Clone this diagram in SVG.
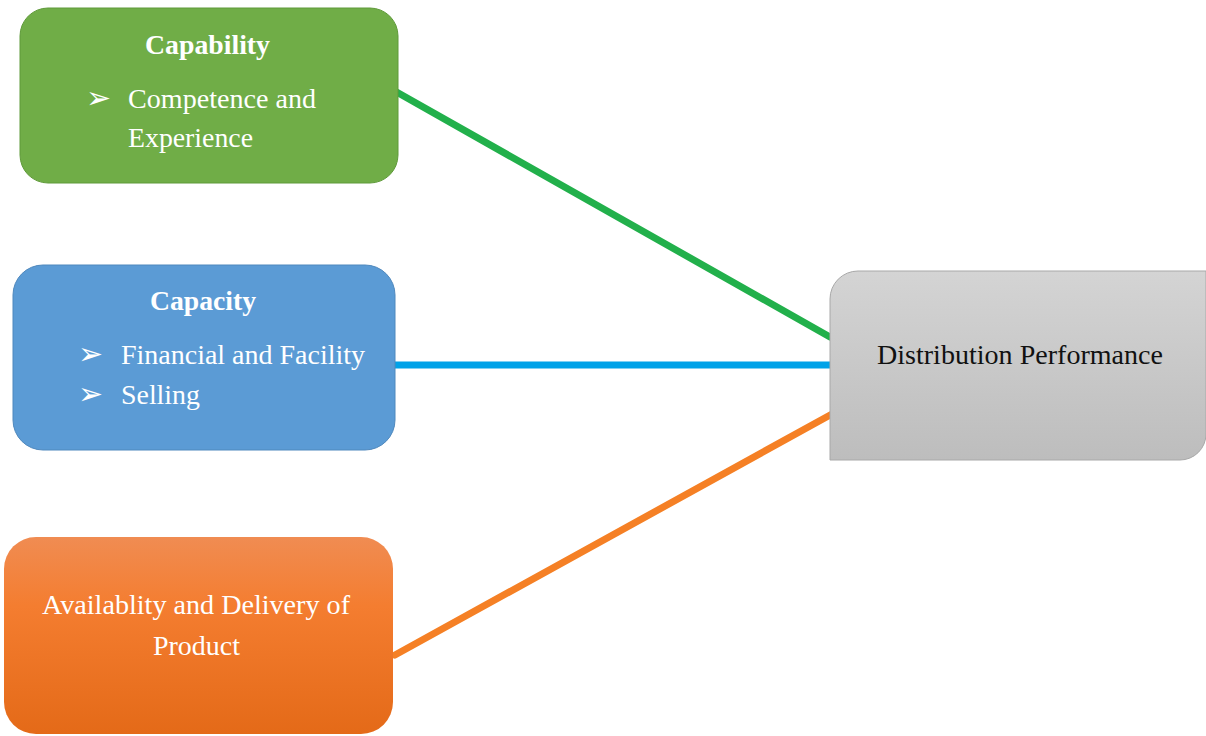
<svg xmlns="http://www.w3.org/2000/svg" width="1206" height="736" viewBox="0 0 1206 736">
  <defs>
    <linearGradient id="orangeFill" x1="0" y1="0" x2="0" y2="1">
      <stop offset="0" stop-color="#f08c52"/>
      <stop offset="0.35" stop-color="#f47d30"/>
      <stop offset="1" stop-color="#e46a18"/>
    </linearGradient>
    <linearGradient id="grayFill" x1="0" y1="0" x2="0" y2="1">
      <stop offset="0" stop-color="#d4d4d4"/>
      <stop offset="1" stop-color="#bdbdbd"/>
    </linearGradient>
    <style>
      .lbl { font-family: "Liberation Serif", "Times New Roman", serif; font-size: 27px; fill: #ffffff; }
      .head { font-weight: bold; }
      .dark { fill: #111111; }
      .bul { font-family: "DejaVu Sans", sans-serif; font-size: 30px; fill: #ffffff; }
      .link { fill: none; stroke-width: 7; stroke-linecap: round; }
    </style>
  </defs>
  <rect width="1206" height="736" fill="#ffffff"/>

  <!-- connectors -->
  <g id="connectors">
    <line class="link" x1="393" y1="90" x2="830" y2="337" stroke="#22b04b"/>
    <line class="link" x1="394" y1="365" x2="834" y2="365" stroke="#00a2e8"/>
    <line class="link" x1="395" y1="655" x2="832" y2="414" stroke="#f58025"/>
  </g>

  <!-- capability -->
  <g id="capability">
    <rect x="20" y="8" width="378" height="175" rx="28" fill="#70ad47" stroke="#5f9a3a" stroke-width="1"/>
    <text class="lbl head" x="145" y="54" textLength="125" lengthAdjust="spacingAndGlyphs">Capability</text>
    <text class="bul" x="86" y="108">➢</text>
    <text class="lbl" x="128" y="108" textLength="188" lengthAdjust="spacingAndGlyphs">Competence and</text>
    <text class="lbl" x="128" y="147" textLength="125" lengthAdjust="spacingAndGlyphs">Experience</text>
  </g>

  <!-- capacity -->
  <g id="capacity">
    <rect x="13" y="265" width="382" height="185" rx="30" fill="#5b9bd5" stroke="#4f88bd" stroke-width="1"/>
    <text class="lbl head" x="150" y="310" textLength="106" lengthAdjust="spacingAndGlyphs">Capacity</text>
    <text class="bul" x="78" y="364">➢</text>
    <text class="lbl" x="121" y="364" textLength="244" lengthAdjust="spacingAndGlyphs">Financial and Facility</text>
    <text class="bul" x="78" y="404">➢</text>
    <text class="lbl" x="121" y="404" textLength="79" lengthAdjust="spacingAndGlyphs">Selling</text>
  </g>

  <!-- availability -->
  <g id="availability">
    <rect x="4" y="537" width="389" height="197" rx="32" fill="url(#orangeFill)"/>
    <text class="lbl" x="42" y="614" textLength="308" lengthAdjust="spacingAndGlyphs">Availablity and Delivery of</text>
    <text class="lbl" x="153" y="655" textLength="87" lengthAdjust="spacingAndGlyphs">Product</text>
  </g>

  <!-- distribution performance -->
  <g id="performance">
    <path d="M858 271 H1206 V434 A26 26 0 0 1 1180 460 H830 V299 A28 28 0 0 1 858 271 Z" fill="url(#grayFill)" stroke="#a8a8a8" stroke-width="1"/>
    <text class="lbl dark" x="877" y="364" textLength="286" lengthAdjust="spacingAndGlyphs">Distribution Performance</text>
  </g>
</svg>
